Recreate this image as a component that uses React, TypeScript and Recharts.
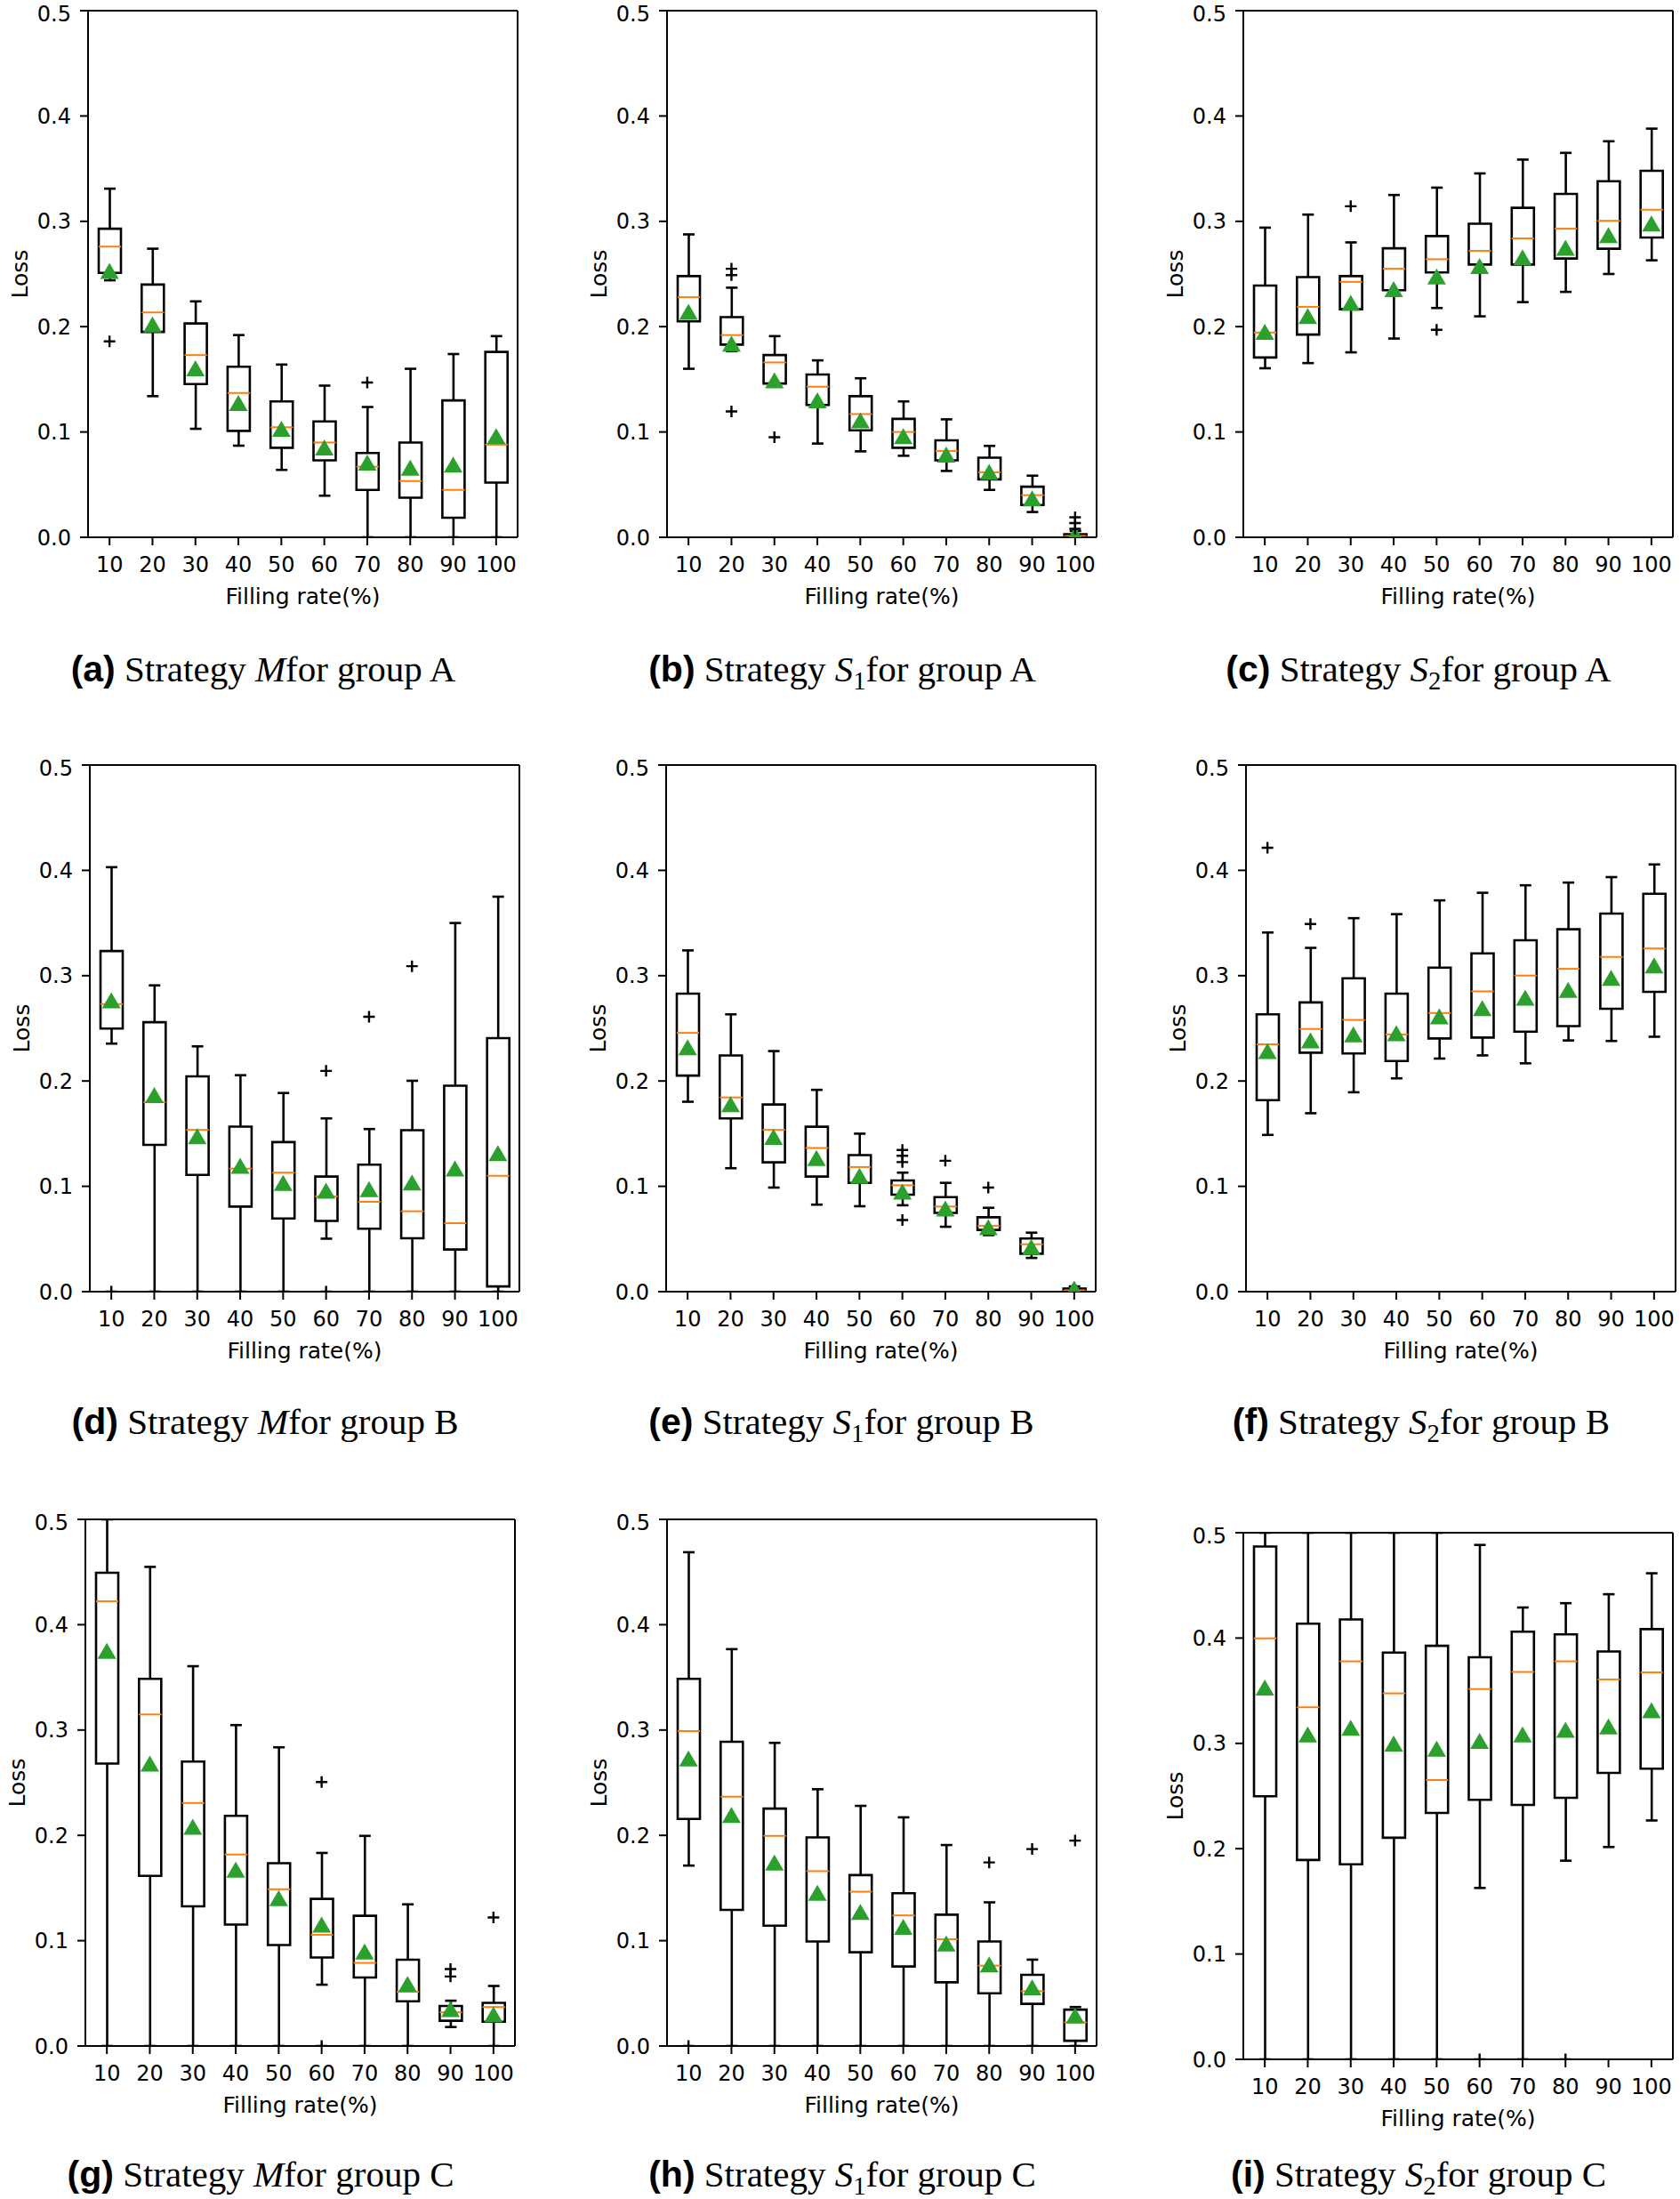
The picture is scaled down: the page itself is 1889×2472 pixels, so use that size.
import React from "react";
import { ComposedChart, Bar, Scatter, XAxis, YAxis } from "recharts";

const rates = ["10", "20", "30", "40", "50", "60", "70", "80", "90", "100"];
const lossTicks = [0, 0.1, 0.2, 0.3, 0.4, 0.5];

// one row per filling rate: [lower whisker, q1, median, q3, upper whisker, mean]
const statsA = [
  [0.244, 0.251, 0.276, 0.293, 0.331, 0.253],
  [0.134, 0.195, 0.2135, 0.24, 0.274, 0.202],
  [0.103, 0.1455, 0.173, 0.203, 0.224, 0.1605],
  [0.087, 0.101, 0.137, 0.162, 0.192, 0.1275],
  [0.064, 0.085, 0.1045, 0.129, 0.164, 0.103],
  [0.0395, 0.073, 0.09, 0.11, 0.144, 0.0853],
  [0, 0.045, 0.067, 0.08, 0.1237, 0.071],
  [0, 0.0376, 0.0534, 0.09, 0.16, 0.066],
  [0, 0.0186, 0.045, 0.13, 0.174, 0.069],
  [0, 0.052, 0.088, 0.176, 0.191, 0.096],
];
const outliersA = [[0.186], [], [], [], [], [], [0.147], [], [], []];

const statsB = [
  [0.16, 0.205, 0.228, 0.248, 0.2876, 0.214],
  [0.1767, 0.183, 0.192, 0.209, 0.237, 0.184],
  [0.145, 0.146, 0.166, 0.173, 0.191, 0.149],
  [0.089, 0.1256, 0.143, 0.1545, 0.168, 0.13],
  [0.0816, 0.1015, 0.117, 0.134, 0.151, 0.111],
  [0.0774, 0.085, 0.1, 0.1124, 0.129, 0.096],
  [0.063, 0.073, 0.082, 0.092, 0.112, 0.0786],
  [0.045, 0.055, 0.0617, 0.0756, 0.0868, 0.062],
  [0.024, 0.0306, 0.04, 0.048, 0.0585, 0.037],
  [0, 0.0005, 0.001, 0.003, 0.006, 0.003],
];
const outliersB = [[], [0.255, 0.249, 0.1195], [0.095], [], [], [], [], [], [], [0.019, 0.0135, 0.008]];

const statsC = [
  [0.1605, 0.1707, 0.1944, 0.239, 0.294, 0.195],
  [0.1654, 0.1925, 0.2188, 0.247, 0.3064, 0.21],
  [0.1756, 0.2165, 0.2425, 0.248, 0.28, 0.2226],
  [0.1887, 0.2346, 0.255, 0.2744, 0.325, 0.2357],
  [0.2177, 0.2515, 0.264, 0.286, 0.332, 0.2477],
  [0.2098, 0.259, 0.272, 0.2977, 0.3455, 0.2575],
  [0.2233, 0.259, 0.2838, 0.3128, 0.3586, 0.2658],
  [0.233, 0.2647, 0.293, 0.326, 0.365, 0.275],
  [0.25, 0.274, 0.3005, 0.338, 0.376, 0.287],
  [0.263, 0.2846, 0.311, 0.348, 0.388, 0.298],
];
const outliersC = [[], [], [0.3143], [], [0.197], [], [], [], [], []];

const statsD = [
  [0.2355, 0.2498, 0.273, 0.3234, 0.403, 0.2765],
  [0, 0.1394, 0.18, 0.2558, 0.2908, 0.1867],
  [0, 0.1108, 0.1536, 0.2044, 0.2329, 0.1476],
  [0, 0.0808, 0.1168, 0.1567, 0.2055, 0.1195],
  [0, 0.0695, 0.113, 0.142, 0.1886, 0.1033],
  [0.0503, 0.0672, 0.0905, 0.1093, 0.1645, 0.0958],
  [0, 0.0597, 0.0853, 0.1206, 0.1544, 0.0973],
  [0, 0.0507, 0.0763, 0.1533, 0.2002, 0.1037],
  [0, 0.04, 0.065, 0.1955, 0.35, 0.117],
  [0, 0.005, 0.11, 0.2407, 0.375, 0.1316],
];
const outliersD = [[0], [], [], [], [], [0.2096, 0], [0.261], [0.309], [], []];

const statsE = [
  [0.1803, 0.2051, 0.2457, 0.283, 0.324, 0.232],
  [0.1172, 0.1645, 0.1844, 0.2243, 0.2633, 0.178],
  [0.0988, 0.1228, 0.1536, 0.1777, 0.2284, 0.147],
  [0.0826, 0.1093, 0.1364, 0.1566, 0.1916, 0.127],
  [0.0811, 0.1033, 0.1183, 0.1296, 0.15, 0.11],
  [0.082, 0.092, 0.101, 0.1056, 0.113, 0.095],
  [0.0616, 0.0748, 0.0808, 0.0898, 0.1033, 0.0789],
  [0.0537, 0.0586, 0.0624, 0.0706, 0.0796, 0.0612],
  [0.032, 0.036, 0.045, 0.0505, 0.056, 0.0425],
  [0, 0.0005, 0.001, 0.003, 0.005, 0.003],
];
const outliersE = [[], [], [], [], [], [0.1345, 0.129, 0.123, 0.068], [0.1243], [0.0988], [], []];

const statsF = [
  [0.1488, 0.1818, 0.2348, 0.2633, 0.341, 0.2284],
  [0.1694, 0.2269, 0.2494, 0.2746, 0.3264, 0.2385],
  [0.1893, 0.2261, 0.258, 0.2975, 0.3546, 0.2442],
  [0.2025, 0.219, 0.2442, 0.2829, 0.3584, 0.2453],
  [0.2213, 0.2404, 0.2645, 0.3077, 0.3715, 0.2615],
  [0.2243, 0.2412, 0.2851, 0.3212, 0.3787, 0.2693],
  [0.2168, 0.2468, 0.3001, 0.3336, 0.3858, 0.2791],
  [0.2385, 0.2521, 0.3065, 0.3441, 0.3884, 0.2866],
  [0.238, 0.2686, 0.3178, 0.359, 0.3936, 0.2979],
  [0.242, 0.2846, 0.3258, 0.3777, 0.4056, 0.3098],
];
const outliersF = [[0.4215], [0.349], [], [], [], [], [], [], [], []];

const statsG = [
  [0, 0.2682, 0.4222, 0.4493, 0.55, 0.3753],
  [0, 0.1615, 0.3148, 0.3486, 0.4549, 0.2682],
  [0, 0.1326, 0.2307, 0.2701, 0.3606, 0.2081],
  [0, 0.1153, 0.1818, 0.2186, 0.3047, 0.1675],
  [0, 0.0958, 0.1488, 0.1736, 0.2836, 0.1405],
  [0.0582, 0.0841, 0.1056, 0.1397, 0.1833, 0.1153],
  [0, 0.065, 0.0789, 0.1236, 0.1995, 0.0898],
  [0, 0.0424, 0.0515, 0.0819, 0.1345, 0.059],
  [0.018, 0.024, 0.032, 0.038, 0.043, 0.035],
  [0, 0.023, 0.037, 0.041, 0.057, 0.03],
];
const outliersG = [[], [], [], [], [], [0.2506, 0], [], [], [0.073, 0.066], [0.122]];

const statsH = [
  [0.1713, 0.2156, 0.299, 0.3486, 0.4688, 0.2731],
  [0, 0.1292, 0.2367, 0.2889, 0.3768, 0.2194],
  [0, 0.1142, 0.1995, 0.2254, 0.2878, 0.1743],
  [0, 0.0992, 0.166, 0.198, 0.2438, 0.1454],
  [0, 0.089, 0.1465, 0.1623, 0.228, 0.1273],
  [0, 0.0755, 0.124, 0.145, 0.2171, 0.1131],
  [0, 0.0605, 0.1014, 0.1247, 0.1908, 0.0973],
  [0, 0.05, 0.0763, 0.0992, 0.1364, 0.0774],
  [0, 0.04, 0.052, 0.0676, 0.082, 0.0557],
  [0, 0.005, 0.0225, 0.0345, 0.037, 0.029],
];
const outliersH = [[0], [], [], [], [], [], [], [0.1743], [0.187], [0.195]];

const statsI = [
  [0, 0.2498, 0.3997, 0.4869, 0.55, 0.3531],
  [0, 0.1893, 0.3343, 0.4136, 0.55, 0.3084],
  [0, 0.1852, 0.3779, 0.4177, 0.55, 0.3148],
  [0, 0.2104, 0.3475, 0.3862, 0.55, 0.2998],
  [0, 0.234, 0.2652, 0.3926, 0.55, 0.2949],
  [0.1627, 0.2464, 0.3516, 0.3817, 0.4884, 0.3024],
  [0, 0.2415, 0.3678, 0.4061, 0.429, 0.3084],
  [0.1886, 0.2483, 0.3779, 0.4035, 0.4331, 0.3129],
  [0.2016, 0.272, 0.3607, 0.3873, 0.4416, 0.316],
  [0.2268, 0.276, 0.3674, 0.4085, 0.4615, 0.3316],
];
const outliersI = [[], [], [], [], [], [0], [], [0], [], []];

const BLACK = "#000";
const ORANGE = "#ff7f0e";
const GREEN = "#2ca02c";
const LW = 2.6;
const CAP = 13;

const PLOT_W = 483;
const PLOT_H = 592;
const Y_AXIS_W = 154;
const X_AXIS_H = 80;
const M_TOP = 10;
const M_RIGHT = 6;

const panels = [
  { tag: "a", strategy: "M", group: "A", stats: statsA, outliers: outliersA, left: 99, top: 12, row: 0 },
  { tag: "b", strategy: "S1", group: "A", stats: statsB, outliers: outliersB, left: 750, top: 12, row: 0 },
  { tag: "c", strategy: "S2", group: "A", stats: statsC, outliers: outliersC, left: 1398, top: 12, row: 0 },
  { tag: "d", strategy: "M", group: "B", stats: statsD, outliers: outliersD, left: 101, top: 860, row: 1 },
  { tag: "e", strategy: "S1", group: "B", stats: statsE, outliers: outliersE, left: 749, top: 860, row: 1 },
  { tag: "f", strategy: "S2", group: "B", stats: statsF, outliers: outliersF, left: 1401, top: 860, row: 1 },
  { tag: "g", strategy: "M", group: "C", stats: statsG, outliers: outliersG, left: 96, top: 1708, row: 2 },
  { tag: "h", strategy: "S1", group: "C", stats: statsH, outliers: outliersH, left: 750, top: 1708, row: 2 },
  { tag: "i", strategy: "S2", group: "C", stats: statsI, outliers: outliersI, left: 1398, top: 1723, row: 2 },
];
const captionY = [752, 1598, 2444];

const toRows = (stats: number[][], outs: number[][]) =>
  rates.map((rate, i) => {
    const [lo, q1, med, q3, hi, mean] = stats[i];
    const row: Record<string, any> = {
      rate,
      base: lo,
      lowW: q1 - lo,
      boxLow: med - q1,
      boxHigh: q3 - med,
      highW: hi - q3,
      mean,
    };
    outs[i].forEach((v, k) => {
      row[`o${k}`] = v;
    });
    return row;
  });

const span = (p: any) => {
  const top = Math.min(p.y, p.y + p.height);
  const bottom = Math.max(p.y, p.y + p.height);
  return { top, bottom, left: p.x, right: p.x + p.width, cx: p.x + p.width / 2 };
};

const ok = (...vals: any[]) => vals.every((v) => typeof v === "number" && !isNaN(v));

const LowWhisker = (p: any) => {
  if (!ok(p.x, p.y, p.width, p.height)) return null;
  const { top, bottom, cx } = span(p);
  return (
    <g>
      <line x1={cx} y1={top} x2={cx} y2={bottom} stroke={BLACK} strokeWidth={LW} />
      <line x1={cx - CAP / 2} y1={bottom} x2={cx + CAP / 2} y2={bottom} stroke={BLACK} strokeWidth={LW} />
    </g>
  );
};

const HighWhisker = (p: any) => {
  if (!ok(p.x, p.y, p.width, p.height)) return null;
  const { top, bottom, cx } = span(p);
  return (
    <g>
      <line x1={cx} y1={top} x2={cx} y2={bottom} stroke={BLACK} strokeWidth={LW} />
      <line x1={cx - CAP / 2} y1={top} x2={cx + CAP / 2} y2={top} stroke={BLACK} strokeWidth={LW} />
    </g>
  );
};

const BoxLow = (p: any) => {
  if (!ok(p.x, p.y, p.width, p.height)) return null;
  const { top, bottom, left, right } = span(p);
  return (
    <path
      d={`M${left},${top} V${bottom} H${right} V${top}`}
      fill="none"
      stroke={BLACK}
      strokeWidth={LW}
      strokeLinejoin="miter"
    />
  );
};

const BoxHigh = (p: any) => {
  if (!ok(p.x, p.y, p.width, p.height)) return null;
  const { top, bottom, left, right } = span(p);
  return (
    <g>
      <path
        d={`M${left},${bottom} V${top} H${right} V${bottom}`}
        fill="none"
        stroke={BLACK}
        strokeWidth={LW}
        strokeLinejoin="miter"
      />
      <line x1={left} y1={bottom} x2={right} y2={bottom} stroke={ORANGE} strokeWidth={2} />
    </g>
  );
};

const Triangle = (p: any) => {
  if (!ok(p.cx, p.cy)) return null;
  const { cx, cy } = p;
  return <path d={`M${cx},${cy - 9} L${cx + 10.5},${cy + 9} L${cx - 10.5},${cy + 9} Z`} fill={GREEN} />;
};

const Plus = (p: any) => {
  if (!ok(p.cx, p.cy)) return null;
  const { cx, cy } = p;
  const r = 6.5;
  return (
    <path d={`M${cx - r},${cy} H${cx + r} M${cx},${cy - r} V${cy + r}`} stroke={BLACK} strokeWidth={2.4} fill="none" />
  );
};

const axisStroke = { stroke: BLACK, strokeWidth: 2 };

const Panel = ({ panel }: { panel: (typeof panels)[number] }) => {
  const data = toRows(panel.stats, panel.outliers);
  return (
    <div style={{ position: "absolute", left: panel.left - Y_AXIS_W, top: panel.top - M_TOP }}>
      <ComposedChart
        width={Y_AXIS_W + PLOT_W + M_RIGHT}
        height={M_TOP + PLOT_H + X_AXIS_H}
        data={data}
        margin={{ top: M_TOP - 1, right: M_RIGHT - 1, bottom: 0, left: 0 }}
      >
        <XAxis
          dataKey="rate"
          interval={0}
          height={X_AXIS_H}
          tickSize={9}
          tickMargin={13}
          tick={{ fill: BLACK, fontSize: 24 }}
          axisLine={axisStroke}
          tickLine={axisStroke}
          label={{ value: "Filling rate(%)", position: "insideBottom", offset: 5, fill: BLACK, fontSize: 25 }}
        />
        <XAxis
          xAxisId="top"
          orientation="top"
          dataKey="rate"
          height={1}
          tick={false}
          tickLine={false}
          axisLine={axisStroke}
        />
        <YAxis
          type="number"
          domain={[0, 0.5]}
          ticks={lossTicks}
          allowDataOverflow
          width={Y_AXIS_W}
          tickSize={9}
          tickMargin={10}
          tickFormatter={(v: number) => v.toFixed(1)}
          tick={{ fill: BLACK, fontSize: 24 }}
          axisLine={axisStroke}
          tickLine={axisStroke}
          label={{ value: "Loss", angle: -90, position: "center", fill: BLACK, fontSize: 25 }}
        />
        <YAxis
          yAxisId="right"
          orientation="right"
          domain={[0, 0.5]}
          width={1}
          tick={false}
          tickLine={false}
          axisLine={axisStroke}
        />
        <Bar dataKey="base" stackId="box" barSize={25} shape={() => null} isAnimationActive={false} />
        <Bar dataKey="lowW" stackId="box" barSize={25} shape={LowWhisker} isAnimationActive={false} />
        <Bar dataKey="boxLow" stackId="box" barSize={25} shape={BoxLow} isAnimationActive={false} />
        <Bar dataKey="boxHigh" stackId="box" barSize={25} shape={BoxHigh} isAnimationActive={false} />
        <Bar dataKey="highW" stackId="box" barSize={25} shape={HighWhisker} isAnimationActive={false} />
        <Scatter dataKey="mean" shape={Triangle} isAnimationActive={false} />
        {[0, 1, 2, 3].map((k) => (
          <Scatter key={k} dataKey={`o${k}`} shape={Plus} isAnimationActive={false} />
        ))}
      </ComposedChart>
    </div>
  );
};

const Caption = ({ panel }: { panel: (typeof panels)[number] }) => (
  <div
    style={{
      position: "absolute",
      left: panel.left + 197,
      top: captionY[panel.row],
      transform: "translate(-50%, -50%)",
      whiteSpace: "nowrap",
      fontFamily: '"Liberation Serif", "Times New Roman", serif',
      fontSize: 41,
      lineHeight: 1,
      color: BLACK,
    }}
  >
    <span style={{ fontFamily: '"Liberation Sans", Arial, sans-serif', fontWeight: 700 }}>({panel.tag})</span>
    {" Strategy "}
    {panel.strategy === "M" ? (
      <i>M</i>
    ) : (
      <>
        <i>S</i>
        <span style={{ fontSize: "0.7em", position: "relative", top: "0.3em" }}>{panel.strategy.slice(1)}</span>
      </>
    )}
    {`for group ${panel.group}`}
  </div>
);

export default function App() {
  return (
    <div
      style={{
        position: "absolute",
        left: 0,
        top: 0,
        width: 1889,
        height: 2472,
        overflow: "hidden",
        background: "#fff",
        fontFamily: '"DejaVu Sans", sans-serif',
      }}
    >
      {panels.map((p) => (
        <Panel key={p.tag} panel={p} />
      ))}
      {panels.map((p) => (
        <Caption key={`cap-${p.tag}`} panel={p} />
      ))}
    </div>
  );
}
